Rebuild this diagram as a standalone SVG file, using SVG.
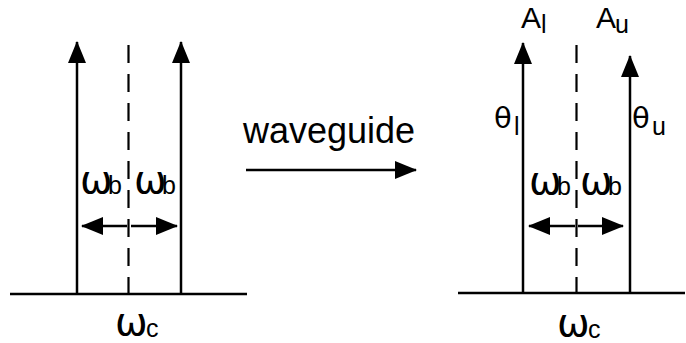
<svg xmlns="http://www.w3.org/2000/svg" width="686" height="343" viewBox="0 0 686 343">
<style>
.ln{stroke:#000;stroke-width:2.5;fill:none}
.dash{stroke:#000;stroke-width:2.2;fill:none;stroke-dasharray:18 11}
.t{font-family:"Liberation Sans",Arial,sans-serif;fill:#000}
.m{font-size:36px}
.a{font-size:30px}
.g{font-family:"DejaVu Sans","Liberation Sans",sans-serif;font-size:39px}
.th{font-family:"DejaVu Sans","Liberation Sans",sans-serif;font-size:29px}
.s{font-size:25px}
</style>
<defs>
<marker id="ah" viewBox="0 0 22 18" refX="21" refY="9" markerWidth="22" markerHeight="18" markerUnits="userSpaceOnUse" orient="auto">
<path d="M0,0 L22,9 L0,18 Z" fill="#000"/>
</marker>
</defs>
<rect width="686" height="343" fill="#fff"/>
<g id="connectors">
<line class="ln" x1="10" y1="294" x2="247" y2="294"/>
<line class="ln" x1="77" y1="294" x2="77" y2="42" marker-end="url(#ah)"/>
<line class="ln" x1="181" y1="294" x2="181" y2="42" marker-end="url(#ah)"/>
<line class="dash" x1="128.5" y1="45" x2="128.5" y2="294"/>
<line class="ln" x1="127" y1="226" x2="82" y2="226" marker-end="url(#ah)"/>
<line class="ln" x1="131" y1="226" x2="177" y2="226" marker-end="url(#ah)"/>
<line class="ln" x1="246" y1="170" x2="416" y2="170" marker-end="url(#ah)"/>
<line class="ln" x1="458" y1="293" x2="685" y2="293"/>
<line class="ln" x1="523" y1="293" x2="523" y2="43" marker-end="url(#ah)"/>
<line class="ln" x1="630" y1="293" x2="630" y2="56" marker-end="url(#ah)"/>
<line class="dash" x1="576.5" y1="45" x2="576.5" y2="293"/>
<line class="ln" x1="575" y1="226" x2="529" y2="226" marker-end="url(#ah)"/>
<line class="ln" x1="578" y1="226" x2="623" y2="226" marker-end="url(#ah)"/>
</g>
<g id="label-wb-left1"><text class="t g" x="80" y="193">ω</text><text class="t s" x="108" y="194">b</text></g>
<g id="label-wb-left2"><text class="t g" x="134" y="193">ω</text><text class="t s" x="162" y="194">b</text></g>
<g id="label-wc-left"><text class="t g" x="115" y="335">ω</text><text class="t s" x="146" y="337">c</text></g>
<g id="label-waveguide"><text class="t m" x="243" y="143">waveguide</text></g>
<g id="label-Al"><text class="t a" x="521" y="28">A</text><text class="t s" x="541" y="33">l</text></g>
<g id="label-Au"><text class="t a" x="596" y="28">A</text><text class="t s" x="615" y="33">u</text></g>
<g id="label-thl"><text class="t th" x="494" y="128">θ</text><text class="t s" x="514" y="135">l</text></g>
<g id="label-thu"><text class="t th" x="632" y="128">θ</text><text class="t s" x="652" y="135">u</text></g>
<g id="label-wb-right1"><text class="t g" x="529" y="194">ω</text><text class="t s" x="557" y="195">b</text></g>
<g id="label-wb-right2"><text class="t g" x="580" y="194">ω</text><text class="t s" x="608" y="195">b</text></g>
<g id="label-wc-right"><text class="t g" x="557" y="336">ω</text><text class="t s" x="588" y="338">c</text></g>
</svg>
